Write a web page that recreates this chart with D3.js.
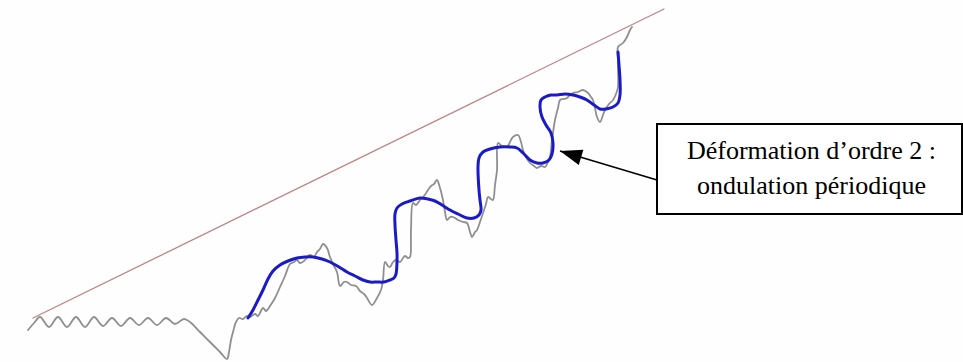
<!DOCTYPE html>
<html>
<head>
<meta charset="utf-8">
<script src="https://cdn.jsdelivr.net/npm/d3@7"></script>
<style>
    html, body { margin: 0; padding: 0; background: #fff; }
    svg { display: block; }
</style>
</head>
<body>
<div id="chart"></div>
<script>
// raw price series (gray) : x = time index, y = level
const priceX = [28, 34, 40, 49, 58, 67, 76, 85, 94, 103, 112, 121, 130, 139, 148, 157, 166, 175, 184, 190,
    200, 212, 220, 227, 229, 231, 233, 236, 239, 243, 247, 250,
    255, 258, 263, 266, 270, 275, 280, 285, 290, 294, 297, 300, 304, 310, 314, 317, 320, 323, 327, 330,
    334, 337, 340, 344, 347, 351, 356, 360, 364, 367, 372, 377, 381, 383, 385, 388, 390, 393, 396, 400,
    403, 405, 408, 410, 411, 413, 416, 420, 424, 428, 431, 434, 437, 440, 443, 445, 447, 450, 453, 458,
    463, 467, 470, 472, 475, 477, 480, 483, 486, 488, 491, 493, 495, 497, 498, 502, 507, 510, 513, 518,
    521, 523, 526, 530, 534, 537, 541, 545, 548, 550, 552, 555, 558, 560, 564, 567, 570, 573, 578, 583,
    588, 591, 593, 595, 597, 600, 603, 605, 609, 613, 616, 618, 618, 618, 618, 623, 627, 630, 632];
const priceY = [32, 39, 45, 35, 45, 35, 45, 35, 45, 36, 44, 36, 44, 37, 44, 37, 44, 38, 43, 40,
    30, 18, 10, 3, 10, 22, 30, 40, 44, 43, 46, 45,
    48, 46, 54, 51, 56, 64, 75, 86, 98, 100, 102, 99, 101, 107, 105, 110, 113, 118, 114, 105,
    96, 90, 76, 80, 80, 77, 76, 71, 68, 64, 57, 64, 72, 82, 100, 96, 95, 100, 102, 100,
    104, 106, 104, 105, 132, 159, 157, 162, 166, 172, 176, 178, 182, 174, 162, 150, 142, 145, 145, 142,
    140, 139, 130, 125, 130, 132, 140, 149, 158, 165, 163, 162, 177, 192, 219, 216, 215, 220, 225, 227,
    220, 212, 205, 199, 196, 194, 196, 195, 200, 205, 222, 242, 254, 262, 263, 264, 267, 269, 270, 272,
    269, 265, 262, 254, 245, 240, 247, 252, 258, 262, 268, 275, 292, 302, 315, 319, 325, 332, 335];

// smoothed wave (blue)
const waveX = [248, 253, 258, 263, 268, 273, 280, 288, 297, 305, 313, 322, 330, 339, 347, 355, 363, 370,
    377, 384, 390, 394, 396, 397, 397, 396, 395, 395, 397, 402, 410, 420, 428, 435, 442, 450, 458, 467,
    474, 479, 481, 480, 479, 478, 479, 483, 490, 500, 510, 517, 523, 530, 537, 543, 549, 552, 553, 551,
    546, 542, 540, 541, 545, 551, 557, 565, 573, 580, 587, 594, 600, 606, 613, 618, 620, 620, 619, 618];
const waveY = [44, 52, 62, 72, 83, 91, 97, 101, 104, 105, 105, 103, 100, 95, 90, 86, 82, 80,
    80, 80, 82, 84, 88, 100, 109, 122, 137, 148, 154, 158, 161, 164, 163, 161, 157, 152, 148, 144,
    144, 147, 152, 162, 172, 195, 204, 210, 213, 215, 215, 214, 209, 202, 199, 199, 202, 208, 219, 229,
    237, 245, 255, 262, 265, 267, 267, 268, 267, 265, 262, 257, 253, 253, 255, 259, 267, 282, 297, 310];

// upper trend line (red)
const trendX = [33, 664];
const trendY = [44, 353];

const noteLines = ["Déformation d’ordre 2 :", "ondulation périodique"];
const notePoint = { x: 555, y: 211 };

class WaveChart {
    width = 963;
    height = 362;

    constructor(container) {
        this.svg = d3.select(container).append("svg")
            .attr("width", this.width)
            .attr("height", this.height);
        this.x = d3.scaleLinear().domain([0, this.width]).range([0, this.width]);
        this.y = d3.scaleLinear().domain([0, this.height]).range([this.height, 0]);
    }

    drawLine(xs, ys, color, w, curve) {
        const line = d3.line()
            .x(d => this.x(d[0]))
            .y(d => this.y(d[1]))
            .curve(curve);
        this.svg.append("path")
            .datum(d3.zip(xs, ys))
            .attr("d", line)
            .attr("fill", "none")
            .attr("stroke", color)
            .attr("stroke-width", w)
            .attr("stroke-linejoin", "round")
            .attr("stroke-linecap", "round");
    }

    render() {
        this.svg.append("rect")
            .attr("width", this.width).attr("height", this.height)
            .attr("fill", "#fefefe");

        this.drawLine(trendX, trendY, "#c08484", 1.3, d3.curveLinear);
        this.drawLine(priceX, priceY, "#8f8f8f", 1.8, d3.curveCatmullRom.alpha(0.5));
        this.drawLine(waveX, waveY, "#1a1ac8", 3, d3.curveCatmullRom.alpha(0.5));

        // annotation box
        const box = { x: 657, y: 124, w: 305, h: 90 };

        const tipX = this.x(notePoint.x) + 5, tipY = this.y(notePoint.y);
        this.svg.append("line")
            .attr("x1", box.x).attr("y1", box.y + 56)
            .attr("x2", tipX).attr("y2", tipY)
            .attr("stroke", "#000")
            .attr("stroke-width", 1.5);

        // arrow head drawn as a triangle at the tip
        const ang = Math.atan2(box.y + 56 - tipY, box.x - tipX);
        const len = 22, half = 8;
        const bx = tipX + len * Math.cos(ang), by = tipY + len * Math.sin(ang);
        this.svg.append("path")
            .attr("d", `M${tipX},${tipY} L${bx - half * Math.sin(ang)},${by + half * Math.cos(ang)} L${bx + half * Math.sin(ang)},${by - half * Math.cos(ang)} Z`)
            .attr("fill", "#000");

        this.svg.append("rect")
            .attr("x", box.x).attr("y", box.y)
            .attr("width", box.w).attr("height", box.h)
            .attr("fill", "#fff")
            .attr("stroke", "#000")
            .attr("stroke-width", 2);

        this.svg.selectAll("text.note")
            .data(noteLines)
            .enter().append("text")
            .attr("class", "note")
            .attr("x", box.x + box.w / 2 + 2)
            .attr("y", (d, i) => box.y + 35 + i * 35)
            .attr("text-anchor", "middle")
            .style("font-family", "'Liberation Serif', 'Times New Roman', serif")
            .style("font-size", "26px")
            .style("fill", "#000")
            .text(d => d);
    }
}

const chart = new WaveChart("#chart");
chart.render();
</script>
</body>
</html>
